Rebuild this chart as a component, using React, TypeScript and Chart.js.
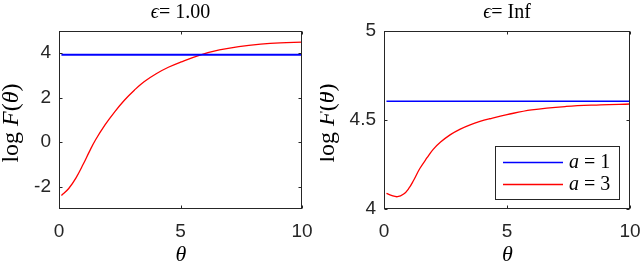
import React, { useEffect, useRef } from "react";
import { Chart, registerables } from "chart.js";

Chart.register(...registerables);

// ---------- data ----------
const xTickValues = [0, 5, 10];
const xTickLabels = ["0", "5", "10"];

const leftYTickValues = [-2, 0, 2, 4];
const leftYTickLabels = ["-2", "0", "2", "4"];
const rightYTickValues = [4, 4.5, 5];
const rightYTickLabels = ["4", "4.5", "5"];

const blueTheta = [0.1, 10];
const blueLeft = [3.93, 3.93];
const blueRight = [4.605, 4.605];

const thetaLeft = [0.1, 0.4, 0.7, 1.0, 1.25, 1.5, 1.9, 2.3, 2.7, 3.1, 3.5, 4.0, 4.5, 5.0, 5.8, 6.6, 7.4, 8.3, 9.1, 10];
const redLeft = [-2.39, -2.08, -1.6, -0.98, -0.42, 0.1, 0.79, 1.38, 1.9, 2.34, 2.72, 3.08, 3.37, 3.6, 3.92, 4.15, 4.3, 4.41, 4.47, 4.5];

const thetaRight = [0.1, 0.3, 0.55, 0.8, 1.0, 1.2, 1.45, 1.75, 2.0, 2.3, 2.7, 3.1, 3.5, 3.9, 4.3, 5.0, 6.0, 7.4, 8.8, 10];
const redRight = [4.088, 4.076, 4.069, 4.084, 4.114, 4.16, 4.226, 4.288, 4.335, 4.376, 4.418, 4.449, 4.473, 4.492, 4.507, 4.53, 4.557, 4.576, 4.585, 4.59];

const legendLabels = ["1", "3"];
const titleValues = ["1.00", "Inf"];

// ---------- helpers ----------
const SERIF = '"Liberation Serif", "DejaVu Serif", serif';
const SANS = '"Liberation Sans", Arial, sans-serif';
const AXIS_COLOR = "#262626";

type Seg = { t: string; f: string };

function drawSegs(ctx: CanvasRenderingContext2D, segs: Seg[], x: number, y: number, align: "center" | "left") {
  let total = 0;
  const widths = segs.map((s) => {
    ctx.font = s.f;
    const w = ctx.measureText(s.t).width;
    total += w;
    return w;
  });
  let cx = align === "center" ? x - total / 2 : x;
  ctx.textAlign = "left";
  segs.forEach((s, i) => {
    ctx.font = s.f;
    ctx.fillText(s.t, cx, y);
    cx += widths[i];
  });
}

function pts(xs: number[], ys: number[]) {
  return xs.map((x, i) => ({ x, y: ys[i] }));
}

function makeDecor(kind: "left" | "right") {
  return {
    id: "decor_" + kind,
    afterDatasetsDraw(chart: any) {
      const ctx: CanvasRenderingContext2D = chart.ctx;
      const a = chart.chartArea;
      const xs = chart.scales.x;
      const ys = chart.scales.y;
      ctx.save();
      // box
      ctx.strokeStyle = AXIS_COLOR;
      ctx.lineWidth = 1;
      const L = Math.round(a.left) + 0.5;
      const R = Math.round(a.right) - 0.5;
      const T = Math.round(a.top) + 0.5;
      const B = Math.round(a.bottom) - 0.5;
      ctx.strokeRect(L, T, R - L, B - T);
      // ticks inward
      const tl = 3;
      ctx.beginPath();
      (kind === "left" ? leftYTickValues : rightYTickValues).forEach((v) => {
        const py = Math.round(ys.getPixelForValue(v)) + 0.5;
        ctx.moveTo(L, py);
        ctx.lineTo(L + tl, py);
        ctx.moveTo(R, py);
        ctx.lineTo(R - tl, py);
      });
      xTickValues.forEach((v) => {
        const px = Math.round(xs.getPixelForValue(v)) + 0.5;
        ctx.moveTo(px, B);
        ctx.lineTo(px, B - tl);
        ctx.moveTo(px, T);
        ctx.lineTo(px, T + tl);
      });
      ctx.stroke();

      ctx.fillStyle = "#000";
      ctx.textBaseline = "alphabetic";
      const cx = (a.left + a.right) / 2;
      // title
      const titleSegs: Seg[] = [
        { t: "ϵ", f: `italic 20px ${SERIF}` },
        { t: "= ", f: `20px ${SERIF}` },
        { t: kind === "left" ? titleValues[0] : titleValues[1], f: `20px ${SERIF}` },
      ];
      drawSegs(ctx, titleSegs, cx, 18, "center");
      // x label
      drawSegs(ctx, [{ t: "θ", f: `italic 22px ${SERIF}` }], cx + 0.5, 261, "center");
      // y label
      ctx.save();
      const ylx = kind === "left" ? 12 : 8;
      ctx.translate(ylx, 123);
      ctx.rotate(-Math.PI / 2);
      ctx.textBaseline = "middle";
      drawSegs(
        ctx,
        [
          { t: "log ", f: `24px ${SERIF}` },
          { t: "F", f: `italic 24px ${SERIF}` },
          { t: "(", f: `24px ${SERIF}` },
          { t: "θ", f: `italic 24px ${SERIF}` },
          { t: ")", f: `24px ${SERIF}` },
        ],
        0,
        0,
        "center"
      );
      ctx.restore();

      // legend (right chart only)
      if (kind === "right") {
        const bx = 495 - 320 + 0.5;
        const by = 146.5;
        const bw = 124;
        const bh = 53;
        ctx.fillStyle = "#fff";
        ctx.fillRect(bx, by, bw, bh);
        ctx.strokeStyle = AXIS_COLOR;
        ctx.lineWidth = 1;
        ctx.strokeRect(bx, by, bw, bh);
        const rows = [
          { c: "#0000ff", y: 162.5, lab: legendLabels[0] },
          { c: "#ff0000", y: 184.5, lab: legendLabels[1] },
        ];
        rows.forEach((r) => {
          ctx.strokeStyle = r.c;
          ctx.lineWidth = 1.5;
          ctx.beginPath();
          ctx.moveTo(503 - 320, r.y);
          ctx.lineTo(563 - 320, r.y);
          ctx.stroke();
          ctx.fillStyle = "#000";
          ctx.textBaseline = "middle";
          drawSegs(
            ctx,
            [
              { t: "a", f: `italic 20px ${SERIF}` },
              { t: " = " + r.lab, f: `20px ${SERIF}` },
            ],
            569 - 320,
            r.y,
            "left"
          );
        });
      }
      ctx.restore();
    },
  };
}

function buildConfig(kind: "left" | "right"): any {
  const isLeft = kind === "left";
  const yVals = isLeft ? leftYTickValues : rightYTickValues;
  const yLabs = isLeft ? leftYTickLabels : rightYTickLabels;
  return {
    type: "line",
    data: {
      datasets: [
        {
          label: "a = 1",
          data: pts(blueTheta, isLeft ? blueLeft : blueRight),
          borderColor: "#0000ff",
          borderWidth: isLeft ? 2 : 1.5,
          pointRadius: 0,
          fill: false,
        },
        {
          label: "a = 3",
          data: pts(isLeft ? thetaLeft : thetaRight, isLeft ? redLeft : redRight),
          borderColor: "#ff0000",
          borderWidth: 1.3,
          pointRadius: 0,
          fill: false,
          tension: 0.4,
        },
      ],
    },
    options: {
      responsive: false,
      animation: false,
      events: [],
      layout: { padding: { left: 0, right: isLeft ? 18 : 10, top: 31, bottom: 0 } },
      plugins: { legend: { display: false }, tooltip: { enabled: false }, title: { display: false } },
      scales: {
        x: {
          type: "linear",
          min: 0,
          max: 10,
          grid: { display: false, drawTicks: false },
          border: { display: false },
          afterBuildTicks: (s: any) => {
            s.ticks = xTickValues.map((v) => ({ value: v }));
          },
          afterFit: (s: any) => {
            s.height = 56;
            s.paddingLeft = 0;
            s.paddingRight = 0;
          },
          ticks: {
            padding: 11,
            maxRotation: 0,
            autoSkip: false,
            color: "#262626",
            font: { family: SANS, size: 19 },
            callback: (_v: any, i: number) => xTickLabels[i],
          },
        },
        y: {
          type: "linear",
          min: isLeft ? -3 : 4,
          max: 5,
          grid: { display: false, drawTicks: false },
          border: { display: false },
          afterBuildTicks: (s: any) => {
            s.ticks = yVals.map((v) => ({ value: v }));
          },
          afterFit: (s: any) => {
            s.width = isLeft ? 59 : 64;
            s.paddingTop = 0;
            s.paddingBottom = 0;
          },
          ticks: {
            padding: 8,
            autoSkip: false,
            color: "#262626",
            font: { family: SANS, size: 19 },
            callback: (_v: any, i: number) => yLabs[i],
          },
        },
      },
    },
    plugins: [makeDecor(kind)],
  };
}

export default function App() {
  const leftRef = useRef<HTMLCanvasElement>(null);
  const rightRef = useRef<HTMLCanvasElement>(null);

  useEffect(() => {
    const c1 = new Chart(leftRef.current as HTMLCanvasElement, buildConfig("left"));
    const c2 = new Chart(rightRef.current as HTMLCanvasElement, buildConfig("right"));
    return () => {
      c1.destroy();
      c2.destroy();
    };
  }, []);

  return (
    <div style={{ position: "fixed", left: 0, top: 0, width: 640, height: 265, background: "#fff", overflow: "hidden" }}>
      <canvas ref={leftRef} width={320} height={265} style={{ position: "absolute", left: 0, top: 0, width: 320, height: 265 }} />
      <canvas ref={rightRef} width={320} height={265} style={{ position: "absolute", left: 320, top: 0, width: 320, height: 265 }} />
    </div>
  );
}
